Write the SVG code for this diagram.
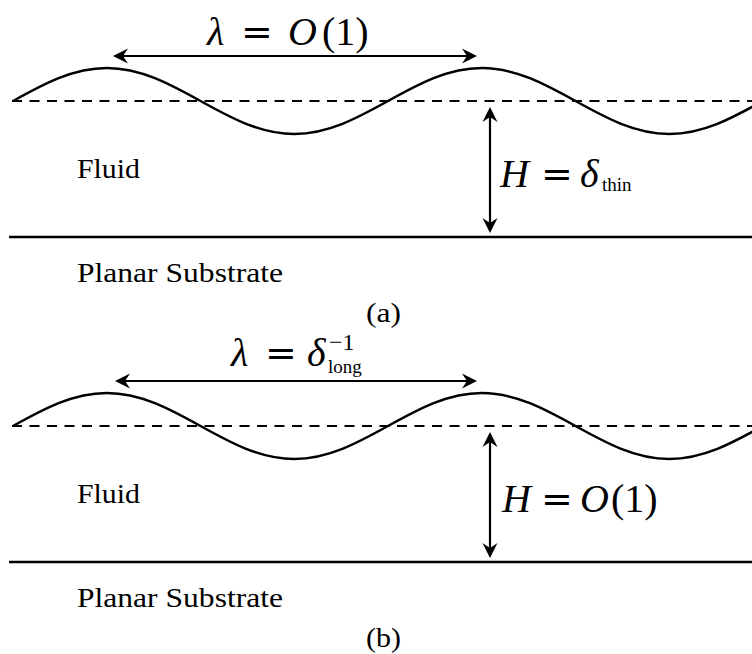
<svg xmlns="http://www.w3.org/2000/svg" width="752" height="654" viewBox="0 0 752 654">
<style>
.line{stroke:#000;stroke-width:2.5;fill:none}
.dash{stroke:#000;stroke-width:2.2;fill:none;stroke-dasharray:10 7.5}
.arrow{stroke:#000;stroke-width:2.2;fill:none;marker-start:url(#ah);marker-end:url(#ah)}
.txt{font-family:"Liberation Serif","Times New Roman",serif;fill:#000}
.math{font-family:"Liberation Serif","Times New Roman",serif;font-size:40px;fill:#000}
.it{font-style:italic}
.eq{font-family:"DejaVu Serif",serif;font-size:38px}
.sub{font-size:19px}
.sup{font-size:24px}
</style>
<defs>
<marker id="ah" markerUnits="userSpaceOnUse" markerWidth="20" markerHeight="20" viewBox="-16 -10 20 20" refX="-9" refY="0" orient="auto-start-reverse">
<path d="M0,0 L-15,-7.5 L-10,0 L-15,7.5 Z" fill="#000"/>
</marker>
<path id="wave" d="M 13 101 C 43.57 84.1, 72.82 68, 106.75 68 S 169.93 84.1, 200.5 101 S 260.32 134, 294.25 134 S 357.43 117.9, 388 101 S 447.82 68, 481.75 68 S 544.93 84.1, 575.5 101 S 635.32 134, 669.25 134 S 732.43 117.9, 763 101"/>
</defs>
<rect width="752" height="654" fill="#fff"/>

<g id="panel-a">
<g id="a-surface">
<use href="#wave" class="line"/>
<line class="dash" x1="12" y1="101" x2="752" y2="101"/>
</g>
<g id="a-substrate">
<line class="line" x1="9" y1="237" x2="752" y2="237"/>
</g>
<g id="a-fluid-label"><text class="txt" x="77" y="178" font-size="27" textLength="63" lengthAdjust="spacingAndGlyphs">Fluid</text></g>
<g id="a-substrate-label"><text class="txt" x="77" y="282" font-size="27" textLength="206" lengthAdjust="spacingAndGlyphs">Planar Substrate</text></g>
<g id="a-wavelength-label"><text class="math" y="45"><tspan class="it" x="207">λ</tspan> <tspan class="eq" x="241">=</tspan> <tspan class="it" x="288">O</tspan><tspan x="322">(1)</tspan></text></g>
<g id="a-height-label"><text class="math" y="187"><tspan class="it" x="500">H</tspan> <tspan class="eq" x="541">=</tspan> <tspan class="it" x="580">δ</tspan><tspan class="sub" x="602" y="191">thin</tspan></text></g>
<g id="a-caption"><text class="txt" x="366" y="322" font-size="28" textLength="35" lengthAdjust="spacingAndGlyphs">(a)</text></g>
</g>

<g id="panel-b">
<g id="b-surface">
<use href="#wave" class="line" transform="translate(0,325)"/>
<line class="dash" x1="12" y1="426" x2="752" y2="426"/>
</g>
<g id="b-substrate">
<line class="line" x1="9" y1="562" x2="752" y2="562"/>
</g>
<g id="b-fluid-label"><text class="txt" x="77" y="503" font-size="27" textLength="63" lengthAdjust="spacingAndGlyphs">Fluid</text></g>
<g id="b-substrate-label"><text class="txt" x="77" y="607" font-size="27" textLength="206" lengthAdjust="spacingAndGlyphs">Planar Substrate</text></g>
<g id="b-wavelength-label"><text class="math" y="366"><tspan class="it" x="231">λ</tspan> <tspan class="eq" x="265">=</tspan> <tspan class="it" x="307">δ</tspan><tspan class="sup" x="329" y="350">−1</tspan><tspan class="sub" x="328" y="373">long</tspan></text></g>
<g id="b-height-label"><text class="math" y="512"><tspan class="it" x="502">H</tspan> <tspan class="eq" x="541">=</tspan> <tspan class="it" x="580">O</tspan><tspan x="611">(1)</tspan></text></g>
<g id="b-caption"><text class="txt" x="366" y="647" font-size="28" textLength="35" lengthAdjust="spacingAndGlyphs">(b)</text></g>
</g>

<g id="connectors">
<line class="arrow" x1="122" y1="56" x2="468" y2="56"/>
<line class="arrow" x1="490" y1="116" x2="490" y2="224"/>
<line class="arrow" x1="124" y1="381" x2="468" y2="381"/>
<line class="arrow" x1="490" y1="441" x2="490" y2="549"/>
</g>
</svg>
